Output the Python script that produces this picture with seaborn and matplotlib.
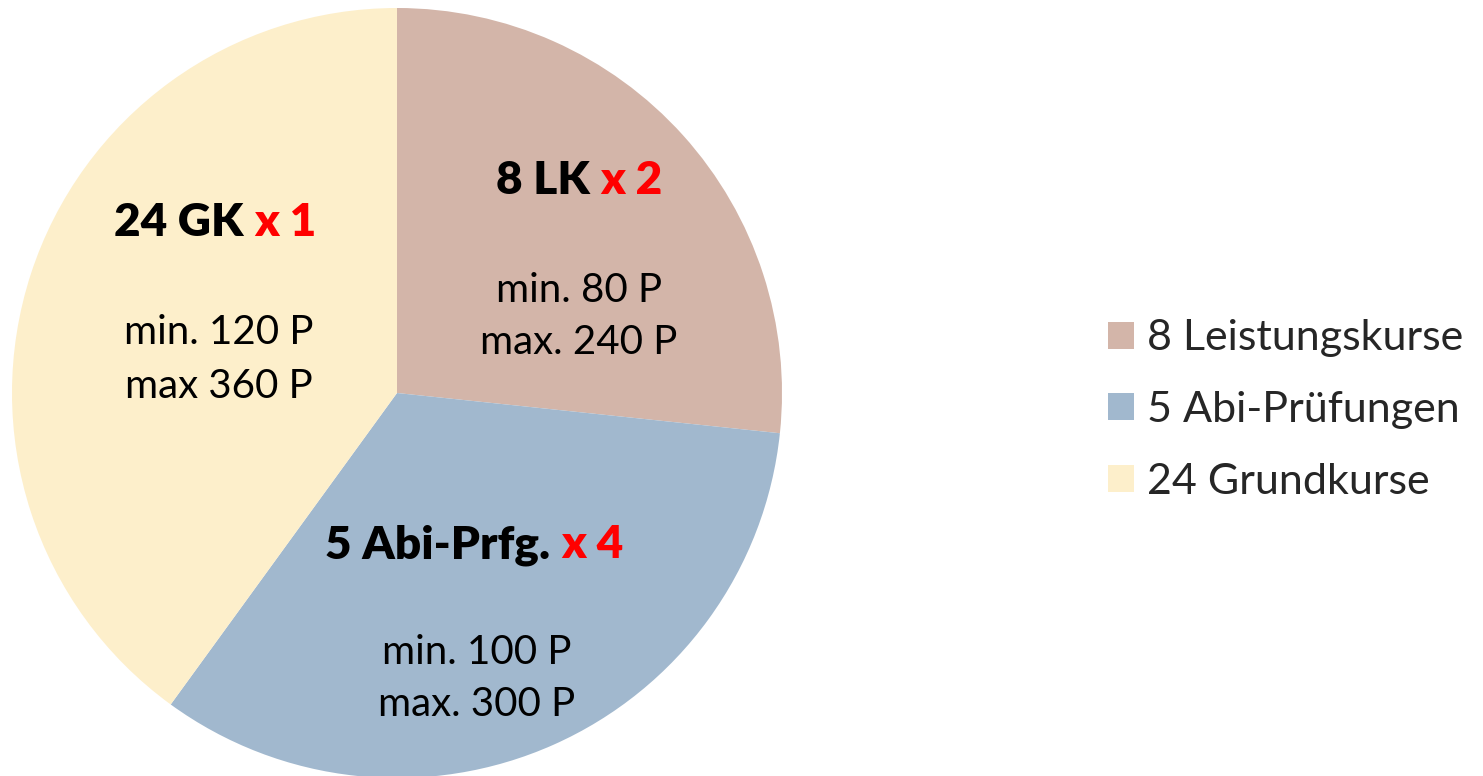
import matplotlib
matplotlib.use("Agg")
import matplotlib.pyplot as plt
import seaborn as sns

# Daten
kategorien = ["8 Leistungskurse", "5 Abi-Prüfungen", "24 Grundkurse"]
max_punkte = [240, 300, 360]
min_punkte = [80, 100, 120]
kurz = ["8 LK", "5 Abi-Prfg.", "24 GK"]
faktor = ["x 2", "x 4", "x 1"]
max_text = ["max. 240 P", "max. 300 P", "max 360 P"]
farben = sns.color_palette(["#D3B5A9", "#A1B8CE", "#FDEFCB"])

sns.set_style("white")
plt.rcParams["font.family"] = ["Lato", "DejaVu Sans"]

W, H = 1483, 776
fig = plt.figure(figsize=(W / 100, H / 100), dpi=100)
cx, cy, r = 397, 393, 385
ax = fig.add_axes([(cx - r) / W, (H - cy - r) / H, 2 * r / W, 2 * r / H])

wedges, _ = ax.pie(max_punkte, colors=farben, startangle=90, counterclock=False,
                   radius=1, wedgeprops=dict(linewidth=0))
ax.set_xlim(-1, 1)
ax.set_ylim(-1, 1)
ax.set_aspect("equal")
ax.axis("off")


def d(px, py):
    return (px - cx) / r, (cy - py) / r


# Beschriftungspositionen (Pixel im Bild): Trennstelle Titel, Mitte Textblock
titel_pos = [(600, 180), (561, 545), (254, 222)]
block_pos = [(579, 290), (477, 652), (219, 333)]

for i in range(3):
    tx, ty = d(*titel_pos[i])
    ax.text(tx, ty, kurz[i] + " ", ha="right", va="center", fontsize=33,
            fontweight="heavy", color="black")
    ax.text(tx, ty, faktor[i], ha="left", va="center", fontsize=33,
            fontweight="heavy", color="red")
    bx, by = d(*block_pos[i])
    ax.text(bx, by, f"min. {min_punkte[i]} P", ha="center", va="center",
            fontsize=29, color="black")
    bx2, by2 = d(block_pos[i][0], block_pos[i][1] + 53)
    ax.text(bx2, by2, max_text[i], ha="center", va="center",
            fontsize=29, color="black")

fig.legend(wedges, kategorien, loc="center left",
           bbox_to_anchor=(1108 / W, 1 - 410 / H), frameon=False,
           fontsize=31, handlelength=0.6, handleheight=0.6,
           handletextpad=0.3, labelspacing=0.78, borderaxespad=0,
           borderpad=0)

fig.savefig("out.png", dpi=100)
